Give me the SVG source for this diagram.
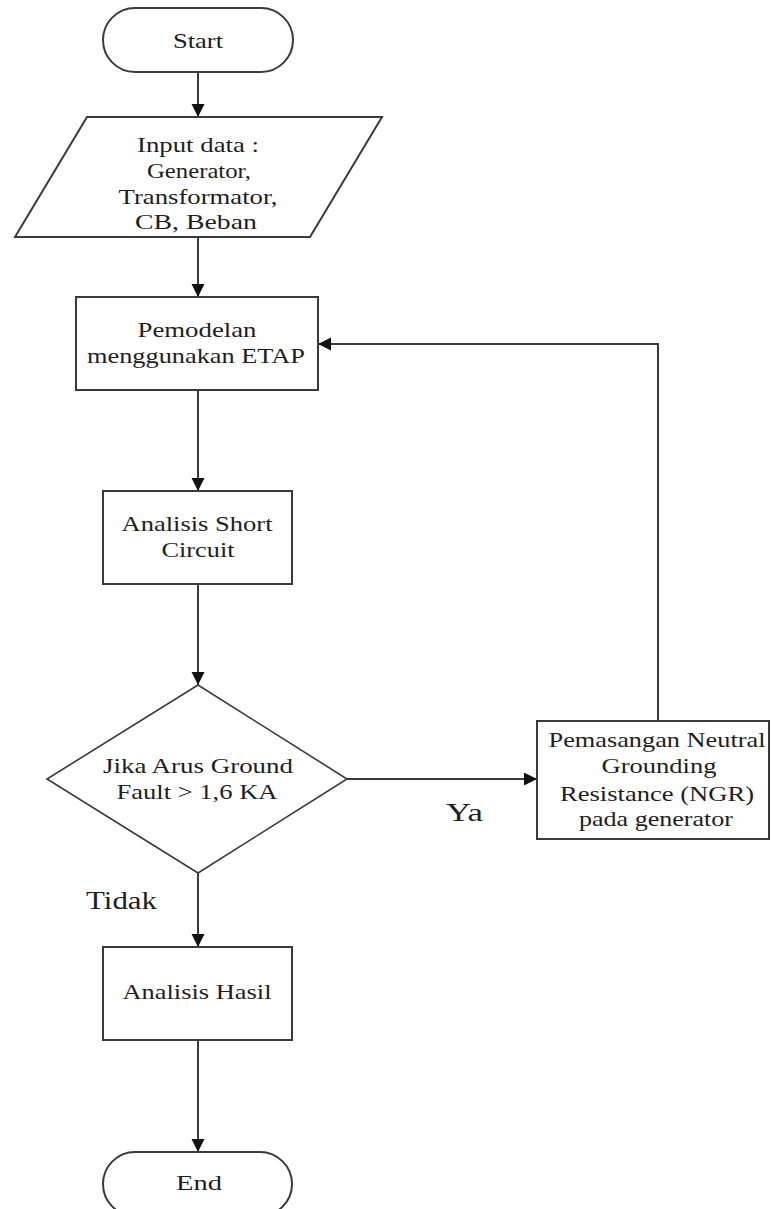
<svg xmlns="http://www.w3.org/2000/svg" width="771" height="1209" viewBox="0 0 771 1209">
<style>
  .shape { fill: #ffffff; stroke: #3a3a3a; stroke-width: 2; }
  .thin { fill: #ffffff; stroke: #3a3a3a; stroke-width: 1.6; }
  .conn { fill: none; stroke: #3a3a3a; stroke-width: 2; }
  text { font-family: "Liberation Serif", "Times New Roman", serif; font-size: 21px; fill: #1e1e1e; text-anchor: middle; }
  .lbl { font-size: 25px; text-anchor: start; }
</style>
<defs>
  <marker id="arrow" markerUnits="userSpaceOnUse" markerWidth="14" markerHeight="14" refX="13" refY="6.5" orient="auto">
    <path d="M0,0 L13,6.5 L0,13 z" fill="#111111"/>
  </marker>
</defs>
<rect width="771" height="1209" fill="#ffffff"/>

<g id="connectors">
  <line class="conn" x1="198" y1="72" x2="198" y2="117" marker-end="url(#arrow)"/>
  <line class="conn" x1="198" y1="237" x2="198" y2="297" marker-end="url(#arrow)"/>
  <line class="conn" x1="198" y1="390" x2="198" y2="491" marker-end="url(#arrow)"/>
  <line class="conn" x1="198" y1="584" x2="198" y2="685" marker-end="url(#arrow)"/>
  <line class="conn" x1="347" y1="779" x2="537" y2="779" marker-end="url(#arrow)"/>
  <polyline class="conn" points="658,721 658,344 318,344" marker-end="url(#arrow)"/>
  <line class="conn" x1="198" y1="873" x2="198" y2="947" marker-end="url(#arrow)"/>
  <line class="conn" x1="198" y1="1040" x2="198" y2="1152" marker-end="url(#arrow)"/>
  <text class="lbl" x="446" y="821" textLength="37" lengthAdjust="spacingAndGlyphs">Ya</text>
  <text class="lbl" x="86" y="909" textLength="71" lengthAdjust="spacingAndGlyphs">Tidak</text>
</g>

<g id="start">
  <rect class="shape" x="103" y="8" width="190" height="64" rx="32" ry="32"/>
  <text x="198" y="48" textLength="50" lengthAdjust="spacingAndGlyphs">Start</text>
</g>

<g id="input">
  <polygon class="shape" points="87,117 382,117 310,237 15,237"/>
  <text x="198" y="152" textLength="122" lengthAdjust="spacingAndGlyphs">Input data :</text>
  <text x="199" y="178" textLength="104" lengthAdjust="spacingAndGlyphs">Generator,</text>
  <text x="198" y="204" textLength="159" lengthAdjust="spacingAndGlyphs">Transformator,</text>
  <text x="196" y="229" textLength="122" lengthAdjust="spacingAndGlyphs">CB, Beban</text>
</g>

<g id="pemodelan">
  <rect class="shape" x="76" y="297" width="242" height="93"/>
  <text x="197" y="337" textLength="119" lengthAdjust="spacingAndGlyphs">Pemodelan</text>
  <text x="196" y="363" textLength="218" lengthAdjust="spacingAndGlyphs">menggunakan ETAP</text>
</g>

<g id="short-circuit">
  <rect class="shape" x="103" y="491" width="189" height="93"/>
  <text x="197" y="531" textLength="151" lengthAdjust="spacingAndGlyphs">Analisis Short</text>
  <text x="198" y="557" textLength="73" lengthAdjust="spacingAndGlyphs">Circuit</text>
</g>

<g id="decision">
  <polygon class="thin" points="198,685 347,779 198,873 47,779"/>
  <text x="198" y="773" textLength="190" lengthAdjust="spacingAndGlyphs">Jika Arus Ground</text>
  <text x="197" y="799" textLength="161" lengthAdjust="spacingAndGlyphs">Fault &gt; 1,6 KA</text>
</g>

<g id="ngr">
  <rect class="shape" x="537" y="721" width="232" height="118"/>
  <text x="657" y="747" textLength="217" lengthAdjust="spacingAndGlyphs">Pemasangan Neutral</text>
  <text x="659" y="773" textLength="115" lengthAdjust="spacingAndGlyphs">Grounding</text>
  <text x="657" y="801" textLength="194" lengthAdjust="spacingAndGlyphs">Resistance (NGR)</text>
  <text x="656" y="826" textLength="154" lengthAdjust="spacingAndGlyphs">pada generator</text>
</g>

<g id="hasil">
  <rect class="shape" x="103" y="947" width="189" height="93"/>
  <text x="197" y="999" textLength="149" lengthAdjust="spacingAndGlyphs">Analisis Hasil</text>
</g>

<g id="end">
  <rect class="shape" x="103" y="1152" width="189" height="64" rx="32" ry="32"/>
  <text x="199" y="1190" textLength="46" lengthAdjust="spacingAndGlyphs">End</text>
</g>
</svg>
